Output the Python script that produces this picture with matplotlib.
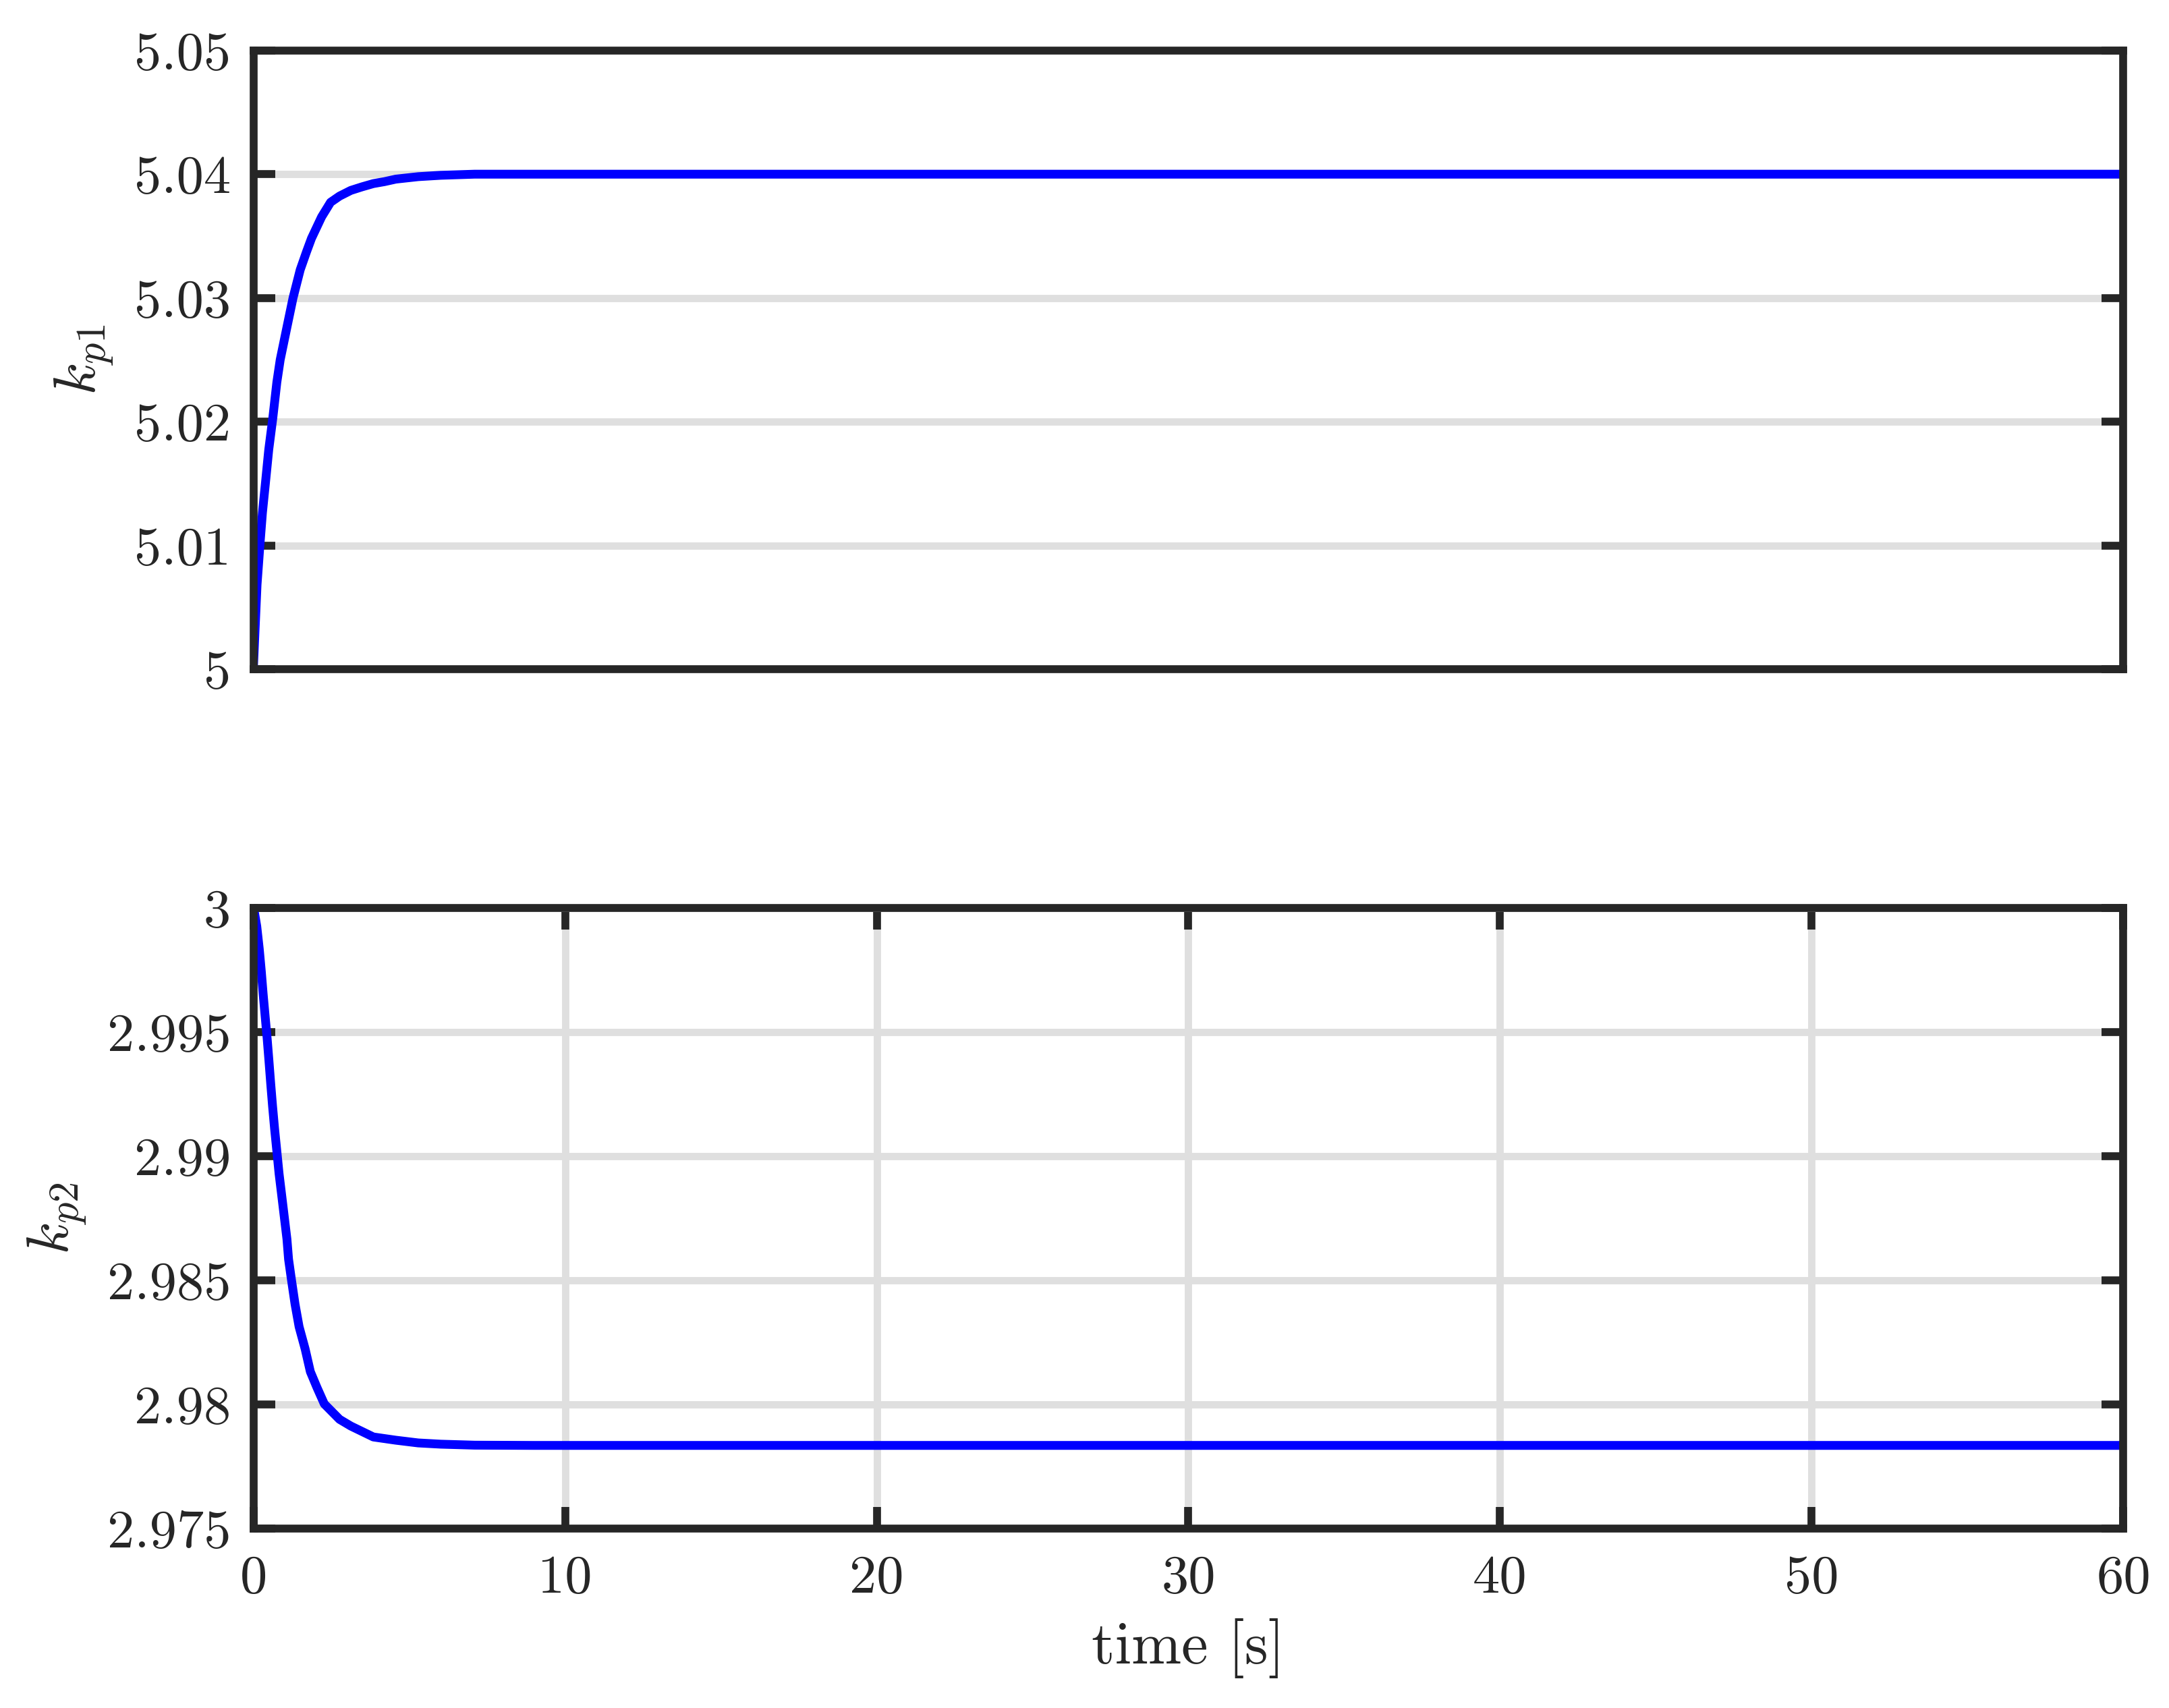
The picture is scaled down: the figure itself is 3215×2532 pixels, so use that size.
import matplotlib
matplotlib.use("Agg")
import matplotlib.pyplot as plt

# 데이터
t_kp1 = [0.0, 0.119, 0.213, 0.292, 0.394, 0.494, 0.624, 0.754, 0.862, 1.086,
         1.273, 1.504, 1.706, 1.866, 2.19, 2.478, 2.766, 3.128, 3.49, 3.85,
         4.21, 4.57, 5.29, 6.01, 7.1, 9.0, 60.0]
kp1 = [5.0, 5.00684, 5.01011, 5.01266, 5.0152, 5.01774, 5.02029, 5.02319,
       5.02501, 5.02774, 5.0300, 5.03228, 5.03373, 5.03482, 5.03655, 5.03773,
       5.03823, 5.03869, 5.03898, 5.03924, 5.0394, 5.0396, 5.0398, 5.03991,
       5.0400, 5.0400, 5.0400]

t_kp2 = [0.0, 0.026, 0.11, 0.19, 0.256, 0.314, 0.379, 0.444, 0.502, 0.558,
         0.617, 0.682, 0.754, 0.826, 0.913, 1.0, 1.078, 1.13, 1.223, 1.338,
         1.468, 1.663, 1.829, 2.039, 2.277, 2.766, 3.128, 3.85, 4.57, 5.29,
         6.01, 7.1, 9.0, 60.0]
kp2 = [3.0, 2.9999, 2.99927, 2.99836, 2.99745, 2.99655, 2.99564, 2.99474,
       2.99383, 2.99292, 2.99202, 2.99111, 2.99021, 2.9893, 2.9884, 2.98749,
       2.98667, 2.98586, 2.98503, 2.98405, 2.98314, 2.98224, 2.98133, 2.9807,
       2.98003, 2.97941, 2.97914, 2.9787, 2.97857, 2.97846, 2.97841, 2.97837,
       2.97836, 2.97836]

x_ticks = [0, 10, 20, 30, 40, 50, 60]
x_tick_labels = ['0', '10', '20', '30', '40', '50', '60']
kp1_ticks = [5.0, 5.01, 5.02, 5.03, 5.04, 5.05]
kp1_tick_labels = ['5', '5.01', '5.02', '5.03', '5.04', '5.05']
kp2_ticks = [2.975, 2.98, 2.985, 2.99, 2.995, 3.0]
kp2_tick_labels = ['2.975', '2.98', '2.985', '2.99', '2.995', '3']

# 스타일
plt.rcParams['font.family'] = 'cmr10'
plt.rcParams['mathtext.fontset'] = 'cm'
plt.rcParams['axes.formatter.use_mathtext'] = True

dark = '#262626'
grid_c = '#dfdfdf'
tick_fs = 29
label_fs = 32

fig = plt.figure(figsize=(16.075, 12.66), dpi=200)
ax1 = fig.add_axes([0.1168, 0.6081, 0.8622, 0.3624])
ax2 = fig.add_axes([0.1168, 0.1049, 0.8622, 0.3634])


def style_axes(ax):
    for sp in ax.spines.values():
        sp.set_linewidth(4.2)
        sp.set_color(dark)
    ax.set_axisbelow(True)
    ax.tick_params(direction='in', length=11.5, width=4.2, color=dark,
                   labelcolor=dark, labelsize=tick_fs)
    ax.tick_params(axis='y', left=True, right=True, pad=12)
    ax.tick_params(axis='x', bottom=True, top=True, pad=14)


# 위쪽: k_p1
ax1.plot(t_kp1, kp1, color=(0, 0, 1), linewidth=4.7, solid_capstyle='butt',
         solid_joinstyle='round')
ax1.set_xlim(0, 60)
ax1.set_ylim(5.0, 5.05)
ax1.set_yticks(kp1_ticks)
ax1.set_yticklabels(kp1_tick_labels)
ax1.set_xticks([])
ax1.grid(True, axis='y', color=grid_c, linewidth=3.9)
style_axes(ax1)
ax1.set_ylabel(r'$k_{p1}$', fontsize=label_fs, color=dark, labelpad=10)

# 아래쪽: k_p2
ax2.plot(t_kp2, kp2, color=(0, 0, 1), linewidth=4.7, solid_capstyle='butt',
         solid_joinstyle='round')
ax2.set_xlim(0, 60)
ax2.set_ylim(2.975, 3.0)
ax2.set_yticks(kp2_ticks)
ax2.set_yticklabels(kp2_tick_labels)
ax2.set_xticks(x_ticks)
ax2.set_xticklabels(x_tick_labels)
ax2.grid(True, color=grid_c, linewidth=3.9)
style_axes(ax2)
ax2.set_ylabel(r'$k_{p2}$', fontsize=label_fs, color=dark, labelpad=10)
ax2.set_xlabel('time [s]', fontsize=label_fs, color=dark, labelpad=8)

fig.savefig('out.png', dpi=200, facecolor='white')
plt.close(fig)
